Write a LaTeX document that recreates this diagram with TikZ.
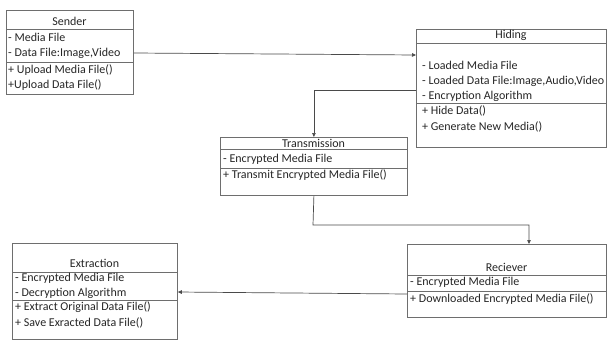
\documentclass[tikz,border=0pt]{standalone}
\usepackage{fontspec}
\setmainfont{Carlito}
\usetikzlibrary{arrows.meta}
\definecolor{edge}{HTML}{6E6E6E}
\definecolor{ink}{HTML}{262626}
\definecolor{wire}{HTML}{4A4A4A}
\begin{document}
\begin{tikzpicture}[x=1pt,y=-1pt,
  classbox/.style={draw=edge, line width=0.8pt, fill=white, rectangle, inner sep=0pt, anchor=north west},
  rule/.style={draw=edge, line width=0.8pt},
  txt/.style={anchor=west, inner sep=0pt, text=ink, font=\fontsize{12}{14}\selectfont},
  ttl/.style={anchor=center, inner sep=0pt, text=ink, font=\fontsize{12}{14}\selectfont},
  link/.style={draw=wire, line width=0.7pt, -{Triangle[length=4pt,width=3.5pt]}}]
\useasboundingbox[fill=white] (0,0) rectangle (609,340);

% Sender
\node[classbox, minimum width=127pt, minimum height=84pt] (sender) at (6,10) {};
\node[ttl] (sendert) at (69.5,21) {Sender};
\draw[rule] (sender.west |- 0,29) -- (sender.east |- 0,29);
\node[txt] (s1) at (8,37) {- Media File};
\node[txt] (s2) at (8,53) {- Data File:Image,Video};
\draw[rule] (sender.west |- 0,62) -- (sender.east |- 0,62);
\node[txt] (s3) at (8,70) {+ Upload Media File()};
\node[txt] (s4) at (8,85) {+Upload Data File()};

% Hiding
\node[classbox, minimum width=190pt, minimum height=118pt] (hiding) at (416,29) {};
\node[ttl] (hidingt) at (511,35) {Hiding};
\draw[rule] (hiding.west |- 0,43) -- (hiding.east |- 0,43);
\node[txt] (h1) at (422,65) {- Loaded Media File};
\node[txt] (h2) at (422,81) {- Loaded Data File:Image,Audio,Video};
\node[txt] (h3) at (422,96) {- Encryption Algorithm};
\draw[rule] (hiding.west |- 0,103) -- (hiding.east |- 0,103);
\node[txt] (h4) at (422,111) {+ Hide Data()};
\node[txt] (h5) at (422,127) {+ Generate New Media()};

% Transmission
\node[classbox, minimum width=187pt, minimum height=58pt] (trans) at (220,137) {};
\node[ttl] (transt) at (313.5,143) {Transmission};
\draw[rule] (trans.west |- 0,149) -- (trans.east |- 0,149);
\node[txt] (t1) at (223,159) {- Encrypted Media File};
\draw[rule] (trans.west |- 0,168) -- (trans.east |- 0,168);
\node[txt] (t2) at (223,175.5) {+ Transmit Encrypted Media File()};

% Reciever
\node[classbox, minimum width=199pt, minimum height=73pt] (recv) at (407,244) {};
\node[ttl] (recvt) at (506.5,267) {Reciever};
\draw[rule] (recv.west |- 0,275) -- (recv.east |- 0,275);
\node[txt] (r1) at (410,282.5) {- Encrypted Media File};
\draw[rule] (recv.west |- 0,291) -- (recv.east |- 0,291);
\node[txt] (r2) at (410,299.5) {+ Downloaded Encrypted Media File()};

% Extraction
\node[classbox, minimum width=165pt, minimum height=96pt] (extr) at (12,243) {};
\node[ttl] (extrt) at (94.5,263) {Extraction};
\draw[rule] (extr.west |- 0,272) -- (extr.east |- 0,272);
\node[txt] (e1) at (15,278.5) {- Encrypted Media File};
\node[txt] (e2) at (15,293) {- Decryption Algorithm};
\draw[rule] (extr.west |- 0,300) -- (extr.east |- 0,300);
\node[txt] (e3) at (15,307.5) {+ Extract Original Data File()};
\node[txt] (e4) at (15,323) {+ Save Exracted Data File()};

% Connectors
\draw[link] (sender.east |- 0,53) -- (hiding.west |- 0,55);
\draw[link] (hiding.west |- 0,90) -| (trans.north);
\coordinate (bend) at (313,225);
\draw[link] (trans.south) -- (bend) -| (529,0 |- recv.north);
\draw[link] (recv.west |- 0,294) -- (extr.east |- 0,292);
\end{tikzpicture}
\end{document}
